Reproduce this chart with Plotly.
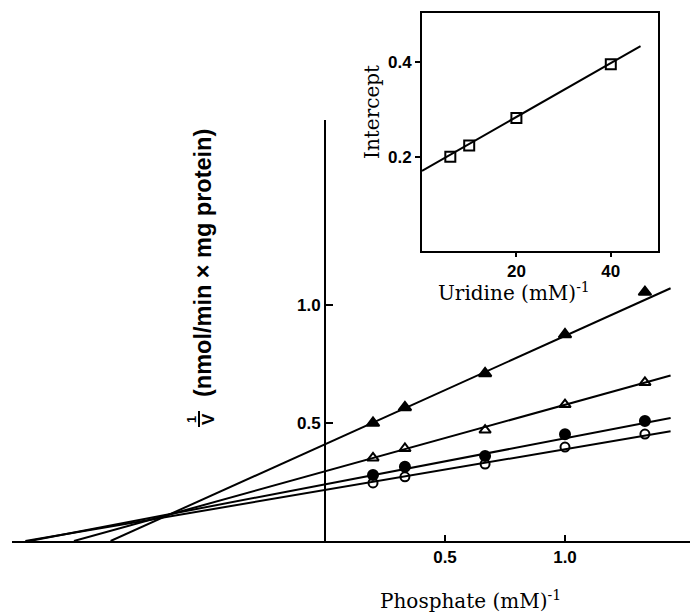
import numpy as np
import plotly.graph_objects as go

W, H = 690, 614

# ---------------- data ----------------
phosphate_inv = [0.2, 0.333, 0.667, 1.0, 1.333]           # (mM)^-1
v_inv_filled_tri = [0.50, 0.566, 0.71, 0.875, 1.055]
v_inv_open_tri = [0.352, 0.392, 0.47, 0.578, 0.672]
v_inv_filled_circ = [0.28, 0.315, 0.36, 0.452, 0.508]
v_inv_open_circ = [0.246, 0.272, 0.326, 0.398, 0.453]

# fitted lines as drawn (slope, intercept) for ▲, △, ●, ○
line_slopes = [0.459, 0.282, 0.195, 0.173]
line_intercepts = [0.41, 0.295, 0.24, 0.216]
line_x_end = 1.44

uridine_inv = [6, 10, 20, 40]                            # (mM)^-1
intercepts = [0.2, 0.224, 0.282, 0.396]
inset_slope = 0.00572
inset_intercept = 0.17
inset_x_end = 46.3

x_ticks = [0.5, 1.0]
x_tick_text = ["0.5", "1.0"]
y_ticks = [0.5, 1.0]
y_tick_text = ["0.5", "1.0"]
inset_x_ticks = [20, 40]
inset_x_tick_text = ["20", "40"]
inset_y_ticks = [0.2, 0.4]
inset_y_tick_text = ["0.2", "0.4"]

# ---------------- layout helpers (pixel -> paper) ----------------
def px(x):
    return x / W

def py(y):
    return 1 - y / H

main_l, main_r, main_t, main_b = 12, 690, 120, 541
x0_px = 325
sx, sy = 240.0, 236.0
x_range = [-(x0_px - main_l) / sx, (main_r - x0_px) / sx]
y_range = [0, (main_b - main_t) / sy]

ins_l, ins_r, ins_t, ins_b = 422, 658, 13, 251

fig = go.Figure()

series = [
    (v_inv_filled_tri, "triangle-up", 11),
    (v_inv_open_tri, "triangle-up-open", 10),
    (v_inv_filled_circ, "circle", 10),
    (v_inv_open_circ, "circle-open", 9),
]

for (yv, sym, size), m, b in zip(series, line_slopes, line_intercepts):
    xs = np.array([-b / m, line_x_end])
    fig.add_trace(go.Scatter(x=xs, y=m * xs + b, mode="lines",
                             line=dict(color="black", width=2),
                             xaxis="x", yaxis="y", showlegend=False,
                             hoverinfo="skip"))
    fig.add_trace(go.Scatter(x=phosphate_inv, y=yv, mode="markers",
                             marker=dict(symbol=sym, size=size, color="black",
                                         line=dict(color="black", width=2)),
                             xaxis="x", yaxis="y", showlegend=False))

# inset
xi = np.array([0, inset_x_end])
fig.add_trace(go.Scatter(x=xi, y=inset_slope * xi + inset_intercept, mode="lines",
                         line=dict(color="black", width=2),
                         xaxis="x2", yaxis="y2", showlegend=False, hoverinfo="skip"))
fig.add_trace(go.Scatter(x=uridine_inv, y=intercepts, mode="markers",
                         marker=dict(symbol="square-open", size=10, color="black",
                                     line=dict(color="black", width=2)),
                         xaxis="x2", yaxis="y2", showlegend=False))

tickfont = dict(family="Liberation Sans", size=17, color="black")
bold = lambda t: [f"<b>{v}</b>" for v in t]

common = dict(showgrid=False, zeroline=False, showline=True,
              linecolor="black", linewidth=2, tickwidth=2, tickcolor="black",
              tickfont=tickfont)

fig.update_layout(
    width=W, height=H, autosize=False,
    margin=dict(l=0, r=0, t=0, b=0),
    paper_bgcolor="white", plot_bgcolor="rgba(0,0,0,0)",
    xaxis=dict(domain=[px(main_l), px(main_r)], range=x_range, anchor="y",
               tickvals=x_ticks, ticktext=bold(x_tick_text),
               ticks="inside", ticklen=6, **common),
    yaxis=dict(domain=[py(main_b), py(main_t)], range=y_range,
               anchor="free", position=px(x0_px), side="left",
               tickvals=y_ticks, ticktext=bold(y_tick_text),
               ticks="inside", ticklen=7, **common),
    xaxis2=dict(domain=[px(ins_l), px(ins_r)], range=[0, 50], anchor="y2",
                mirror=True, tickvals=inset_x_ticks, ticktext=bold(inset_x_tick_text),
                ticks="outside", ticklen=4, **common),
    yaxis2=dict(domain=[py(ins_b), py(ins_t)], range=[0, 0.505], anchor="x2",
                mirror=True, tickvals=inset_y_ticks, ticktext=bold(inset_y_tick_text),
                ticks="outside", ticklen=5, **common),
)

serif = dict(family="DejaVu Serif", size=20, color="black")
sans_title = dict(family="Liberation Sans", size=23.5, color="black")

annotations = [
    dict(text="Phosphate (mM)<sup>-1</sup>", x=px(470), y=py(600), font=serif),
    dict(text="Uridine (mM)<sup>-1</sup>", x=px(514), y=py(292), font=serif),
    dict(text="Intercept", x=px(372), y=py(112), font=serif, textangle=-90),
    dict(text="<b>(nmol/min × mg protein)</b>", x=px(203), y=py(263),
         font=sans_title, textangle=-90),
    dict(text="<b>1</b>", x=px(191), y=py(419),
         font=dict(family="Liberation Sans", size=13, color="black"), textangle=-90),
    dict(text="<b>V</b>", x=px(208), y=py(419),
         font=dict(family="Liberation Sans", size=17, color="black"), textangle=-90),
]
for a in annotations:
    a.update(xref="paper", yref="paper", showarrow=False, xanchor="center", yanchor="middle")
fig.update_layout(annotations=annotations)

fig.add_shape(type="line", xref="paper", yref="paper",
              x0=px(199), x1=px(199), y0=py(411), y1=py(427),
              line=dict(color="black", width=2))

fig.write_html("out.html")
